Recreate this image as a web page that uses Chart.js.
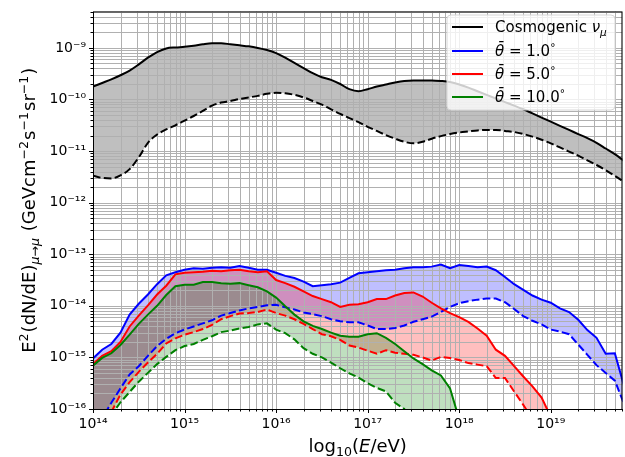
<!DOCTYPE html>
<html><head><meta charset="utf-8">
<script src="https://cdn.jsdelivr.net/npm/chart.js@4.4.1/dist/chart.umd.min.js"></script>
<style>html,body{margin:0;padding:0;background:#fff}canvas{display:block}</style>
</head><body>
<canvas id="c" width="625" height="457"></canvas>
<script>
// x: log10(E/eV) sample energies
const logE = [14.0,14.1,14.2,14.3,14.4,14.5,14.6,14.7,14.8,14.9,
15.0,15.1,15.2,15.3,15.4,15.5,15.6,15.7,15.8,15.9,
16.0,16.1,16.2,16.3,16.4,16.5,16.6,16.7,16.8,16.9,
17.0,17.1,17.2,17.3,17.4,17.5,17.6,17.7,17.8,17.9,
18.0,18.1,18.2,18.3,18.4,18.5,18.6,18.7,18.8,18.9,
19.0,19.1,19.2,19.3,19.4,19.5,19.6,19.7,19.8];

// log10 of E^2 dN/dE  (GeV cm^-2 s^-1 sr^-1)
const cosmoUpper = [-9.75,-9.68,-9.61,-9.53,-9.44,-9.32,-9.19,-9.08,-9.01,-8.99,
-8.98,-8.96,-8.93,-8.91,-8.91,-8.93,-8.95,-8.97,-9.00,-9.04,
-9.10,-9.19,-9.29,-9.39,-9.49,-9.57,-9.62,-9.70,-9.80,-9.84,
-9.80,-9.75,-9.71,-9.67,-9.64,-9.63,-9.63,-9.63,-9.64,-9.66,
-9.71,-9.77,-9.84,-9.91,-9.98,-10.05,-10.12,-10.19,-10.27,-10.35,
-10.43,-10.51,-10.59,-10.67,-10.75,-10.84,-10.95,-11.06,-11.19];
const cosmoLower = [-11.48,-11.52,-11.53,-11.47,-11.35,-11.12,-10.84,-10.68,-10.58,-10.50,
-10.41,-10.32,-10.22,-10.12,-10.06,-10.03,-9.99,-9.96,-9.93,-9.89,
-9.87,-9.88,-9.91,-9.96,-10.03,-10.10,-10.19,-10.28,-10.36,-10.44,
-10.53,-10.61,-10.69,-10.76,-10.82,-10.85,-10.82,-10.76,-10.71,-10.67,
-10.64,-10.62,-10.60,-10.59,-10.59,-10.61,-10.63,-10.67,-10.72,-10.78,
-10.85,-10.93,-11.01,-11.09,-11.18,-11.27,-11.37,-11.48,-11.60];
const theta1Upper = [-15.02,-14.85,-14.74,-14.52,-14.17,-13.96,-13.78,-13.58,-13.41,-13.35,
-13.30,-13.27,-13.28,-13.26,-13.25,-13.26,-13.23,-13.26,-13.30,-13.30,
-13.36,-13.42,-13.46,-13.53,-13.62,-13.60,-13.58,-13.55,-13.46,-13.37,
-13.35,-13.33,-13.31,-13.30,-13.27,-13.25,-13.25,-13.24,-13.20,-13.27,
-13.21,-13.23,-13.25,-13.24,-13.31,-13.44,-13.58,-13.69,-13.80,-13.88,
-13.94,-14.05,-14.12,-14.27,-14.47,-14.62,-14.93,-14.92,-15.55];
const theta1Lower = [-16.45,-16.18,-15.88,-15.60,-15.33,-15.17,-14.97,-14.78,-14.64,-14.53,
-14.46,-14.40,-14.34,-14.28,-14.19,-14.14,-14.09,-14.05,-14.02,-13.99,
-13.98,-14.03,-14.07,-14.13,-14.16,-14.20,-14.26,-14.30,-14.32,-14.32,
-14.38,-14.45,-14.45,-14.43,-14.38,-14.31,-14.26,-14.21,-14.12,-14.02,
-13.95,-13.91,-13.88,-13.86,-13.86,-13.93,-14.06,-14.20,-14.29,-14.36,
-14.46,-14.50,-14.55,-14.75,-14.95,-15.15,-15.30,-15.45,-15.90];
const theta5Upper = [-15.13,-14.97,-14.88,-14.70,-14.40,-14.19,-13.99,-13.78,-13.61,-13.39,
-13.36,-13.35,-13.34,-13.32,-13.33,-13.31,-13.30,-13.33,-13.35,-13.33,
-13.50,-13.56,-13.63,-13.72,-13.81,-13.87,-13.93,-14.02,-13.98,-13.97,
-13.93,-13.87,-13.87,-13.80,-13.75,-13.74,-13.82,-13.94,-14.05,-14.14,
-14.22,-14.31,-14.44,-14.58,-14.85,-14.97,-15.17,-15.37,-15.56,-15.78,
-16.15,null,null,null,null,null,null,null,null];
const theta5Lower = [-16.6,-16.35,-16.06,-15.72,-15.48,-15.28,-15.10,-14.93,-14.73,-14.63,
-14.56,-14.51,-14.45,-14.37,-14.26,-14.20,-14.15,-14.14,-14.12,-14.07,
-14.14,-14.19,-14.26,-14.35,-14.45,-14.55,-14.59,-14.66,-14.77,-14.81,
-14.87,-14.93,-14.86,-14.91,-14.93,-14.95,-15.00,-15.06,-14.99,-15.01,
-15.05,-15.11,-15.14,-15.17,-15.40,-15.40,-15.66,-15.92,-16.2,-16.5,
-16.8,null,null,null,null,null,null,null,null];
const theta10Upper = [-15.16,-15.01,-14.92,-14.76,-14.56,-14.35,-14.17,-14.00,-13.79,-13.62,
-13.59,-13.59,-13.54,-13.54,-13.56,-13.57,-13.56,-13.60,-13.64,-13.72,
-13.84,-14.01,-14.17,-14.30,-14.39,-14.45,-14.52,-14.58,-14.60,-14.60,
-14.55,-14.53,-14.62,-14.74,-14.88,-15.02,-15.13,-15.25,-15.35,-15.60,
-16.2,null,null,null,null,null,null,null,null,null,
null,null,null,null,null,null,null,null,null];
const theta10Lower = [-16.7,-16.4,-16.12,-15.87,-15.67,-15.47,-15.30,-15.13,-14.99,-14.86,
-14.78,-14.74,-14.66,-14.59,-14.51,-14.48,-14.44,-14.41,-14.36,-14.34,
-14.46,-14.53,-14.65,-14.82,-14.93,-15.00,-15.10,-15.21,-15.31,-15.39,
-15.50,-15.59,-15.66,-15.88,-16.0,-16.3,-16.5,-16.7,-16.9,-17.1,
-17.3,null,null,null,null,null,null,null,null,null,
null,null,null,null,null,null,null,null,null];

const xTickLabels = ['10¹⁴','10¹⁵','10¹⁶','10¹⁷','10¹⁸','10¹⁹'];
const yTickLabels = ['10⁻¹⁶','10⁻¹⁵','10⁻¹⁴','10⁻¹³','10⁻¹²','10⁻¹¹','10⁻¹⁰','10⁻⁹'];
const legendLabels = ['Cosmogenic ν', 'θ̄ = 1.0', 'θ̄ = 5.0', 'θ̄ = 10.0'];

const X_MIN = 1e14, X_MAX = 6.07e19, Y_MIN = 1e-16, Y_MAX = 5.1e-9;
const FONT = 'DejaVu Sans';
const GREEN = '#008000';

function pts(vals) {
  return logE.map((e, i) => ({x: Math.pow(10, e), y: vals[i] === null ? null : Math.pow(10, vals[i])}));
}
function logTicks(minExp, maxExp, maxVal, labels) {
  const t = [];
  for (let e = minExp; e <= maxExp; e++) for (let k = 1; k <= 9; k++) {
    const v = k * Math.pow(10, e);
    if (v <= maxVal * 1.0001) t.push({value: v, major: k === 1, label: k === 1 ? labels[e - minExp] : ''});
  }
  return t;
}
const solid = (data, color, fillColor) => ({data: pts(data), borderColor: color, borderWidth: 2, fill: '+1', backgroundColor: fillColor, pointRadius: 0, tension: 0, clip: 0});
const dashed = (data, color) => ({data: pts(data), borderColor: color, borderWidth: 2, borderDash: [7.7, 3.3], fill: false, pointRadius: 0, tension: 0, clip: 0});

const datasets = [
  solid(theta10Upper, GREEN, 'rgba(0,128,0,0.25)'), dashed(theta10Lower, GREEN),
  solid(theta5Upper, '#ff0000', 'rgba(255,0,0,0.25)'), dashed(theta5Lower, '#ff0000'),
  solid(theta1Upper, '#0000ff', 'rgba(0,0,255,0.25)'), dashed(theta1Lower, '#0000ff'),
  Object.assign(solid(cosmoUpper, '#000000', 'rgba(128,128,128,0.5)'), {cubicInterpolationMode: 'monotone'}),
  Object.assign(dashed(cosmoLower, '#000000'), {cubicInterpolationMode: 'monotone'})
];

function drawRuns(ctx, runs, x, y, align) {
  let total = 0;
  for (const r of runs) {
    ctx.font = (r.it ? 'italic ' : '') + r.s + 'px "' + FONT + '"';
    r.w = ctx.measureText(r.t).width + (r.gap || 0); total += r.w;
  }
  let cx = align === 'center' ? x - total / 2 : x;
  for (const r of runs) {
    ctx.font = (r.it ? 'italic ' : '') + r.s + 'px "' + FONT + '"';
    ctx.fillText(r.t, cx, y + (r.dy || 0));
    cx += r.w;
  }
}

const decor = {
  id: 'decor',
  beforeDatasetsDraw(chart) {
    const {ctx, chartArea: a, scales} = chart;
    ctx.save();
    ctx.beginPath(); ctx.rect(a.left, a.top, a.right - a.left, a.bottom - a.top); ctx.clip();
    ctx.strokeStyle = '#b0b0b0'; ctx.lineWidth = 1;
    ctx.beginPath();
    for (const t of scales.x.ticks) {
      const p = Math.round(scales.x.getPixelForValue(t.value)) + 0.5;
      ctx.moveTo(p, a.top); ctx.lineTo(p, a.bottom);
    }
    for (const t of scales.y.ticks) {
      const p = Math.round(scales.y.getPixelForValue(t.value)) + 0.5;
      ctx.moveTo(a.left, p); ctx.lineTo(a.right, p);
    }
    ctx.stroke();
    ctx.restore();
  },
  afterDraw(chart) {
    const {ctx, chartArea: a, scales} = chart;
    ctx.save();
    // frame
    ctx.strokeStyle = '#000'; ctx.lineWidth = 1;
    ctx.strokeRect(a.left + 0.5, a.top + 0.5, a.right - a.left - 1, a.bottom - a.top);
    // tick marks
    ctx.beginPath();
    for (const t of scales.x.ticks) {
      const p = Math.round(scales.x.getPixelForValue(t.value)) + 0.5;
      ctx.moveTo(p, a.bottom); ctx.lineTo(p, a.bottom + (t.major ? 4 : 2.5));
    }
    for (const t of scales.y.ticks) {
      const p = Math.round(scales.y.getPixelForValue(t.value)) + 0.5;
      ctx.moveTo(a.left, p); ctx.lineTo(a.left - (t.major ? 4 : 2.5), p);
    }
    ctx.stroke();
    // axis titles
    ctx.fillStyle = '#000'; ctx.textBaseline = 'alphabetic';
    drawRuns(ctx, [{t: 'log', s: 18}, {t: '10', s: 12.6, dy: 4}, {t: '(', s: 18}, {t: 'E', s: 18, it: true}, {t: '/eV)', s: 18}], (a.left + a.right) / 2, 452, 'center');
    ctx.save();
    ctx.translate(35, (a.top + a.bottom) / 2);
    ctx.rotate(-Math.PI / 2);
    drawRuns(ctx, [
      {t: 'E', s: 18}, {t: '2', s: 12.6, dy: -7.5, gap: 1}, {t: '(dN/dE)', s: 18},
      {t: 'μ', s: 12.6, it: true, dy: 4}, {t: '→', s: 12.6, dy: 4}, {t: 'μ', s: 12.6, it: true, dy: 4, gap: 1},
      {t: ' (GeVcm', s: 18}, {t: '−2', s: 12.6, dy: -7.5, gap: 1}, {t: 's', s: 18}, {t: '−1', s: 12.6, dy: -7.5, gap: 1},
      {t: 'sr', s: 18}, {t: '−1', s: 12.6, dy: -7.5, gap: 1}, {t: ')', s: 18}
    ], 0, 0, 'center');
    ctx.restore();
    // legend
    const bx = 447, by = 15, bw = 168, bh = 95, r = 4;
    ctx.beginPath();
    ctx.moveTo(bx + r, by); ctx.lineTo(bx + bw - r, by); ctx.quadraticCurveTo(bx + bw, by, bx + bw, by + r);
    ctx.lineTo(bx + bw, by + bh - r); ctx.quadraticCurveTo(bx + bw, by + bh, bx + bw - r, by + bh);
    ctx.lineTo(bx + r, by + bh); ctx.quadraticCurveTo(bx, by + bh, bx, by + bh - r);
    ctx.lineTo(bx, by + r); ctx.quadraticCurveTo(bx, by, bx + r, by); ctx.closePath();
    ctx.fillStyle = 'rgba(255,255,255,0.8)'; ctx.fill();
    ctx.strokeStyle = '#d6d6d6'; ctx.lineWidth = 1; ctx.stroke();
    const rows = [27, 51, 74, 97];
    const cols = ['#000000', '#0000ff', '#ff0000', GREEN];
    ctx.lineWidth = 2;
    rows.forEach((ry, i) => {
      ctx.strokeStyle = cols[i]; ctx.beginPath(); ctx.moveTo(452, ry); ctx.lineTo(483, ry); ctx.stroke();
    });
    ctx.fillStyle = '#000';
    drawRuns(ctx, [{t: 'Cosmogenic ', s: 15}, {t: 'ν', s: 15, it: true}, {t: 'μ', s: 10.5, it: true, dy: 3.5}], 495, rows[0] + 5, 'left');
    for (let i = 1; i < 4; i++) {
      const lab = legendLabels[i];
      drawRuns(ctx, [{t: 'θ̄', s: 15, it: true}, {t: lab.slice(2), s: 15}, {t: '°', s: 10.5, dy: -5}], 495, rows[i] + 5, 'left');
    }
    ctx.restore();
  }
};

new Chart(document.getElementById('c'), {
  type: 'line',
  data: {datasets},
  options: {
    responsive: false, animation: false, devicePixelRatio: 1, events: [],
    layout: {padding: {left: 0, top: 7, right: 2, bottom: 0}},
    plugins: {legend: {display: false}, title: {display: false}, tooltip: {enabled: false}, filler: {drawTime: 'beforeDatasetsDraw'}},
    scales: {
      x: {
        type: 'logarithmic', min: X_MIN, max: X_MAX, bounds: 'data',
        afterBuildTicks: s => { s.ticks = logTicks(14, 19, X_MAX, xTickLabels); },
        afterFit: s => { s.height = 48; },
        grid: {drawOnChartArea: false, drawTicks: true, tickLength: 4, tickColor: 'rgba(0,0,0,0)'},
        border: {display: false},
        ticks: {autoSkip: false, maxRotation: 0, minRotation: 0, padding: 3, color: '#000', font: {family: FONT, size: 14},
          callback: (v, i, t) => t[i].label}
      },
      y: {
        type: 'logarithmic', min: Y_MIN, max: Y_MAX, bounds: 'data',
        afterBuildTicks: s => { s.ticks = logTicks(-16, -9, Y_MAX, yTickLabels); },
        afterFit: s => { s.width = 93; },
        grid: {drawOnChartArea: false, drawTicks: true, tickLength: 4, tickColor: 'rgba(0,0,0,0)'},
        border: {display: false},
        ticks: {autoSkip: false, padding: 3, color: '#000', font: {family: FONT, size: 14},
          callback: (v, i, t) => t[i].label}
      }
    }
  },
  plugins: [decor]
});
</script>
</body></html>
